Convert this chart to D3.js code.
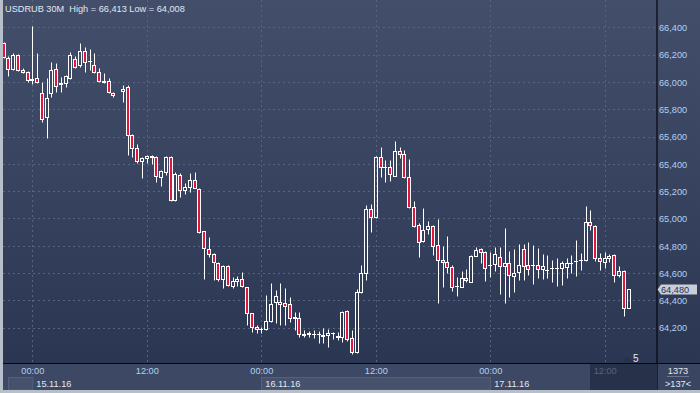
<!DOCTYPE html>
<html><head><meta charset="utf-8">
<script src="https://cdn.jsdelivr.net/npm/d3@7"></script>
<style>
html,body{margin:0;padding:0;background:#3a4660;overflow:hidden}
svg{display:block}
text{font-family:"Liberation Sans",Arial,sans-serif;font-size:9.2px}
</style>
</head><body>
<svg id="chart" width="700" height="393"></svg>
<script>
const title = "USDRUB 30M  High = 66,413 Low = 64,008";
// 30-minute candles, slot 0 = 14.11.16 21:00 ; slot 24 had no bar
const opens = [66283,66173,66093,66197,66085,66071,66014,66027,65917,65746,65917,66093,65983,65990,66031,66166,66124,66224,66150,66122,66071,66005,66005,65917,null,65932,65961,65609,65514,65419,65443,65448,65450,65302,65343,65450,65134,65317,65207,65233,65280,65214,64907,64775,64740,64677,64555,64655,64508,64543,64555,64497,64306,64204,64193,64189,64247,64391,64374,64384,64374,64270,64270,64155,64155,64155,64155,64150,64145,64160,64142,64135,64321,64122,64025,64460,64604,65072,65009,65453,65375,65375,65314,65497,65470,65306,65082,64953,64838,64921,64943,64804,64694,64680,64647,64506,64501,64563,64538,64728,64777,64753,64660,64665,64716,64655,64672,64582,64606,64775,64660,64660,64660,64628,64623,64636,64640,64640,64647,64672,64689,64696,64696,64973,64948,64709,64680,64709,64731,64585,64614,64343];
const highs = [66295,66190,66210,66202,66100,66082,66413,66210,66002,66027,66146,66137,66034,66051,66221,66190,66283,66258,66239,66210,66100,66068,66027,65929,null,65975,65978,65617,65544,65453,65465,65465,65456,65355,65456,65456,65343,65336,65262,65331,65341,65226,64911,64863,64745,64682,64660,64660,64570,64579,64606,64501,64311,64221,64204,64440,64526,64477,64526,64489,64428,64318,64318,64184,64179,64184,64179,64196,64189,64172,64172,64323,64330,64184,64484,64660,65099,65106,65458,65522,65429,65429,65568,65522,65502,65434,65128,64965,65075,64982,64953,64994,64799,64872,64660,64574,64616,64628,64733,64789,64782,64765,64753,64789,64789,64929,64765,64777,64811,64811,64826,64806,64782,64740,64733,64696,64709,64691,64709,64733,64843,64745,65092,65063,64953,64750,64753,64738,64740,64653,64623,64480];
const lows = [66175,66044,66088,66082,66063,66002,65983,65990,65709,65587,65888,65929,65929,65965,66019,66100,66112,66075,66088,66068,66002,65990,65917,65888,null,65855,65465,65448,65404,65299,65404,65397,65265,65238,65319,65130,65130,65156,65182,65196,65221,64892,64555,64721,64550,64543,64489,64508,64489,64508,64501,64221,64172,64160,64164,64184,64244,64233,64221,64221,64245,64184,64135,64131,64131,64123,64087,64089,64062,64116,64111,64098,64102,64008,64016,64453,64550,64904,65006,65306,65270,65277,65312,65441,65299,65075,64936,64721,64831,64887,64733,64384,64501,64604,64470,64435,64501,64538,64538,64726,64672,64545,64574,64618,64448,64384,64428,64464,64550,64550,64587,64521,64563,64557,64563,64538,64506,64514,64563,64599,64582,64623,64691,64916,64689,64623,64640,64684,64538,64574,64289,64343];
const closes = [66180,66093,66200,66085,66071,66012,66019,65998,65731,65880,66085,65970,65990,66044,66197,66107,66224,66144,66155,66071,66009,66000,65924,65904,null,65946,65609,65514,65419,65441,65456,65456,65309,65346,65450,65134,65324,65209,65229,65280,65226,64902,64782,64738,64680,64555,64653,64511,64541,64555,64506,64306,64204,64189,64189,64250,64374,64433,64387,64362,64270,64277,64155,64150,64164,64155,64155,64138,64164,64160,64135,64318,64116,64025,64460,64604,65072,65009,65453,65375,65375,65324,65497,65473,65306,65087,64948,64831,64916,64943,64801,64694,64680,64647,64501,64506,64563,64548,64726,64770,64753,64640,64660,64738,64655,64672,64585,64599,64660,64655,64628,64660,64628,64653,64623,64636,64640,64672,64672,64672,64689,64696,64973,64953,64709,64689,64709,64728,64585,64614,64343,64480];
const priceTicks = [64200,64400,64600,64800,65000,65200,65400,65600,65800,66000,66200,66400];
const timeTickSlots = [6,30,54,78,102,126];
const timeTickLabels = ["00:00","12:00","00:00","12:00","00:00","12:00"];
const daySlots = [-1.1,6,54,102];
const dayLabels = ["","15.11.16","16.11.16","17.11.16"];
const lastPrice = 64480;
const barsInfoTop = "1373", barsInfoBottom = ">137<";
const markerCount = "5";

const W = 700, H = 393;
const plotLeft = 3, plotRight = 657, plotBottom = 363;
const svg = d3.select("#chart");
const x = d3.scaleLinear().domain([0,137]).range([3.7,657.2]);
const y = d3.scaleLinear().domain([64200,66400]).range([327.7,27.3]);
const snap = v => Math.round(v) + 0.5;

const defs = svg.append("defs");
const g1 = defs.append("linearGradient").attr("id","bg").attr("x1",0).attr("y1",0).attr("x2",0).attr("y2",1);
g1.append("stop").attr("offset",0).attr("stop-color","#434f6a");
g1.append("stop").attr("offset",0.5).attr("stop-color","#37435f");
g1.append("stop").attr("offset",1).attr("stop-color","#2b3653");

// backgrounds
svg.append("rect").attr("x",0).attr("y",0).attr("width",W).attr("height",plotBottom).attr("fill","url(#bg)");
svg.append("rect").attr("x",0).attr("y",plotBottom).attr("width",W).attr("height",H-plotBottom).attr("fill","#3d4964");

// gridlines
const grid = svg.append("g").attr("stroke","#58647f").attr("stroke-width",1).attr("stroke-dasharray","2,3");
grid.selectAll("line.h").data(priceTicks).join("line")
  .attr("x1",plotLeft).attr("x2",plotRight).attr("y1",d=>snap(y(d))).attr("y2",d=>snap(y(d)));
grid.selectAll("line.v").data(timeTickSlots).join("line")
  .attr("y1",0).attr("y2",plotBottom).attr("x1",d=>snap(x(d))).attr("x2",d=>snap(x(d)));

// candles
const candles = d3.range(opens.length).filter(i => opens[i] !== null).map(i => ({
  i, o: opens[i], h: highs[i], l: lows[i], c: closes[i]
}));
const cg = svg.append("g");
candles.forEach(d => {
  const cx = snap(x(d.i));
  const top = snap(y(Math.max(d.o,d.c)));
  const bot = snap(y(Math.min(d.o,d.c)));
  const down = d.c < d.o;
  const hy = snap(y(d.h)), ly = snap(y(d.l));
  if (hy < top) cg.append("line").attr("x1",cx).attr("x2",cx).attr("y1",hy).attr("y2",top).attr("stroke","#fff");
  if (ly > bot) cg.append("line").attr("x1",cx).attr("x2",cx).attr("y1",bot).attr("y2",ly).attr("stroke","#fff");
  cg.append("rect").attr("x",cx-2).attr("y",top).attr("width",3).attr("height",Math.max(bot-top,0.01))
    .attr("fill",down ? "#e0163d" : "none").attr("stroke","#fff").attr("stroke-width",1);
});

// separators
svg.append("line").attr("x1",plotRight).attr("x2",plotRight).attr("y1",0).attr("y2",H).attr("stroke","#05070c").attr("stroke-width",1.2);
svg.append("line").attr("x1",0).attr("x2",W).attr("y1",plotBottom+0.5).attr("y2",plotBottom+0.5).attr("stroke","#05070c").attr("stroke-width",1.2);

// right price axis
const yAxis = d3.axisRight(y).tickValues(priceTicks).tickFormat(d3.format(",")).tickSize(0).tickPadding(0);
const ya = svg.append("g").attr("transform",`translate(${plotRight+2},0)`).call(yAxis);
ya.select(".domain").remove();
ya.selectAll("text").attr("fill","#b3cff2").style("font-size","9.2px").attr("dy","0.35em");

// last price marker
const ly0 = snap(y(lastPrice));
svg.append("path").attr("d",`M${plotRight+0.5},${ly0} L${plotRight+4},${ly0-5} L${W-3},${ly0-5} L${W-3},${ly0+5} L${plotRight+4},${ly0+5} Z`)
  .attr("fill","#c9cdd5");
svg.append("text").attr("x",plotRight+4).attr("y",ly0).attr("dy","0.35em").attr("fill","#1c3464").text(d3.format(",")(lastPrice));

// bottom time axis panel
const dayG = svg.append("g");
daySlots.forEach((s,k) => {
  const x0 = k === 0 ? 8 : x(s);
  const x1 = k < daySlots.length-1 ? x(daySlots[k+1]) : 590;
  const light = k % 2 === 0;
  if (light) {
    dayG.append("rect").attr("x",snap(x0)).attr("y",377.5).attr("width",x1-x0).attr("height",12.5)
      .attr("fill","#46526c").attr("stroke","#55617b").attr("stroke-width",1);
  }
  if (dayLabels[k]) dayG.append("text").attr("x",x(s)+4).attr("y",383.5).attr("dy","0.35em")
    .attr("fill","#e1e7ef").text(dayLabels[k]);
});
// inactive future area
svg.append("rect").attr("x",590).attr("y",364).attr("width",plotRight-590).attr("height",26).attr("fill","#27314a");

const xAxis = d3.axisBottom(x).tickValues(timeTickSlots).tickFormat((d,i)=>timeTickLabels[i]).tickSize(0).tickPadding(0);
const xa = svg.append("g").attr("transform","translate(0,367)").call(xAxis);
xa.select(".domain").remove();
xa.selectAll("text").style("font-size","9.2px").attr("dy","0.71em")
  .attr("fill",(d,i)=> i === timeTickSlots.length-1 ? "#5b6579" : "#b3cff2");

// bottom-right info box
svg.append("rect").attr("x",plotRight+1).attr("y",364).attr("width",W-plotRight-1).attr("height",26).attr("fill","#3a4661");
svg.append("text").attr("x",678).attr("y",371).attr("dy","0.35em").attr("text-anchor","middle").attr("fill","#e4e9f1").text(barsInfoTop);
svg.append("line").attr("x1",667).attr("x2",689).attr("y1",376.5).attr("y2",376.5).attr("stroke","#6b7790");
svg.append("text").attr("x",678).attr("y",383.5).attr("dy","0.35em").attr("text-anchor","middle").attr("fill","#e4e9f1").text(barsInfoBottom);

// marker near the bottom of the plot
svg.append("path").attr("d","M622,362 L627,357.5 L632,362 Z").attr("fill","#26304a");
svg.append("text").attr("x",633).attr("y",358.5).attr("dy","0.35em").attr("fill","#e4e9f1").style("font-size","10px").text(markerCount);

// title
svg.append("text").attr("x",5).attr("y",8.5).attr("dy","0.35em").attr("fill","#e0e7f1")
  .style("white-space","pre").text(title);

// window frame
svg.append("rect").attr("x",0).attr("y",0).attr("width",3).attr("height",H).attr("fill","#b7bfcb");
svg.append("rect").attr("x",0).attr("y",390).attr("width",W).attr("height",3).attr("fill","#b7bfcb");
</script>
</body></html>
